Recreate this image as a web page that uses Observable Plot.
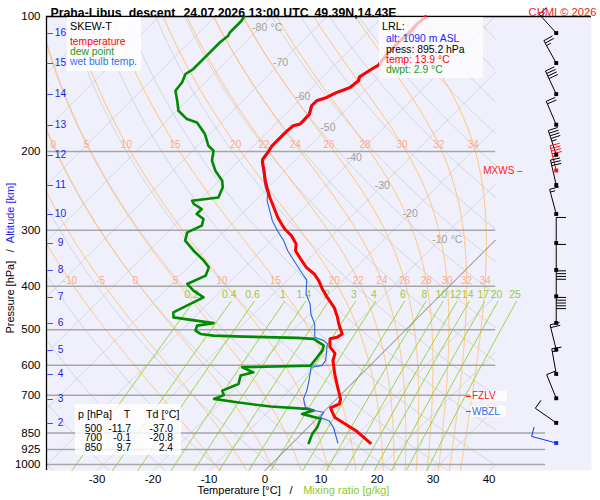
<!DOCTYPE html>
<html><head><meta charset="utf-8">
<script src="https://cdn.jsdelivr.net/npm/d3@7"></script>
<script src="https://cdn.jsdelivr.net/npm/@observablehq/plot@0.6"></script>
<style>
html,body{margin:0;padding:0;background:#fff;}
#wrap{position:relative;width:600px;height:500px;overflow:hidden;font-family:"Liberation Sans",Arial,Helvetica,sans-serif;}
.ov{position:absolute;white-space:nowrap;line-height:1;}
.box{position:absolute;}
</style></head>
<body><div id="wrap"></div>
<script>
// ---------------- data ----------------
const titleParts = ["Praha-Libus", "descent", "24.07.2026 13:00 UTC", "49.39N,14.43E"];
const credit = "CHMI © 2026";

// temperature profile (hPa, °C)
const tempP = [100,101.9,104.0,107.6,113.3,119.3,125.5,128.4,131.0,136.3,139.1,144.0,145.9,147.7,151.6,154.2,158.2,165.1,169.4,173.7,175.3,179.9,184.5,194.3,202.4,207.7,210.9,220.9,232.5,240.7,253.4,266.8,280.9,288.1,298.0,308.5,321.8,333.2,347.7,363.0,375.6,388.7,405.5,423.5,445.8,469.3,485.4,511,520,524,546,565,586,627.6,672,713.6,732,747,764,785,818,843,895.2];
const tempT = [-52.4,-52.4,-52.6,-52.3,-52.6,-52.6,-52.3,-52.1,-52.6,-53.4,-52.9,-53.2,-53.9,-54.7,-55.6,-56.8,-56.8,-55.7,-55.6,-55.6,-56.5,-56.7,-56.7,-56.7,-56.2,-56.0,-55.6,-53.7,-51.7,-50.2,-47.9,-45.4,-42.9,-41.5,-39.6,-37.2,-34.9,-33.8,-31.4,-28.9,-26.3,-24.3,-22.2,-19.8,-16.8,-14.4,-13.0,-10.6,-10.9,-11.9,-10.5,-8.4,-7.5,-4.8,-1.9,0.7,1.4,0.5,1.6,3.0,6.7,9.4,13.9];

// dew point profile
const dewP = [100,102.2,105.8,108.6,110.4,114.3,119.3,124.5,131.0,134.4,140.4,146.5,154.2,162.3,169.4,172.4,183.0,194.3,199.3,209.8,220.9,232.5,240.7,253.4,257.7,262.1,268.9,275.9,283.1,293.0,303.3,316.5,333.2,350.7,363.0,378.8,395.3,409.1,423.5,441.9,457.4,469.3,483.5,489.7,502.4,511.0,515.5,518.1,521.6,524.3,542.7,556.8,576.3,601.4,606.7,622.5,633.1,660.6,672.3,683.8,700,713.6,726.1,742.3,751.1,757.7,770.7,790.7,825.6,854.1,895.2];
const dewT = [-84.8,-84.5,-84.5,-84.5,-84.2,-84.5,-84.5,-84.5,-84.5,-85.0,-84.1,-83.8,-81.7,-79.7,-76.7,-74.3,-70.8,-68.1,-66.3,-64.8,-62.4,-59.4,-58.1,-57.1,-61.2,-60.3,-58.0,-58.0,-55.9,-55.0,-56.4,-55.3,-52.0,-48.4,-46.3,-45.4,-47.2,-44.9,-41.9,-43.4,-44.6,-43.7,-35.5,-38.0,-37.4,-35.9,-33.3,-27.7,-17.9,-14.8,-11.8,-11.2,-10.9,-10.6,-22.5,-19.6,-21.3,-20.2,-21.0,-21.9,-20.8,-21.9,-17.2,-10.4,-3.5,-2.0,-3.5,0.7,1.6,1.9,2.9];

// wet bulb temperature profile
const wbP = [100,104.0,113.3,119.3,125.5,128.4,131.0,136.3,139.1,144.0,147.7,151.6,154.2,158.2,165.1,173.7,175.3,184.5,194.3,202.4,207.7,210.9,220.9,232.5,240.7,249.0,257.7,285.6,300.6,316.5,333.2,356.3,375.5,387.0,416.1,438.0,463,485.4,520,528.9,537.5,586.1,601.4,606.7,649.5,683.8,713.6,745,757.7,764,785,798,825.6,895.2];
const wbT = [-52.6,-52.8,-52.8,-52.8,-52.5,-52.3,-52.8,-53.6,-53.1,-53.4,-54.9,-55.8,-57.0,-57.0,-55.9,-55.8,-56.7,-56.9,-56.9,-56.4,-56.2,-55.8,-53.9,-51.9,-50.5,-48.9,-47.8,-43.3,-40.6,-37.7,-35.2,-31.4,-28.4,-26.6,-24.2,-21.7,-19.6,-17.3,-14.9,-12.7,-11.5,-8.8,-8.6,-10.2,-8.2,-6.8,-5.9,-4.1,-2.0,0.1,0.4,2.5,4.5,8.1];

// axes
const xTicks = [-30,-20,-10,0,10,20,30,40];
const pTicks = [100,200,300,400,500,600,700,850,925,1000];
const isobarsUpper = [200,300,400,500,600,700];
const isobarsLower = [850,925,1000];
const altKm = [16,15,14,13,12,11,10,9,8,7,6,5,4,3,2];
const altP = [108.9,127.0,149.0,174.4,203.5,237.7,275.9,320.2,367.8,421.3,482.9,554.0,627.6,711.3,807.2];

// background lines
const isothermT = d3.range(-130, 51, 10);
const dryThetaC = d3.range(-60, 251, 10);
const moistThetaW = [-10,-5,0,5,10,15,20,22,24,26,28,30,32,34];
const moistLabelsTop = [0,5,10,15,20,22,24,26,28,30,32,34];
const moistLabelsBottom = [-10,-5,0,5,10,15,20,22,24,26,28,30,32,34];
const moistLabelP = [193, 388];
const mixRatios = [0.2,0.4,0.6,1,1.4,2,3,4,6,8,10,12,14,17,20,25];
const mixTopP = 430, mixLabelP = 418, mixLabelRefP = 438;
const isoLabelT = [-80,-70,-60,-50,-40,-30,-20,-10];
const isoLabelP = [106,127,151,177,206,238,275,315];

// winds (per km level + max wind + lowest reported level)
const windP   = [108.9,127.0,149.0,174.4,203.5,220.6,237.7,275.9,320.2,367.8,421.3,482.9,554.0,627.6,711.3,807.2,895.2];
const windDir = [318,331,335,337,342,346,347,345,0,0,0,0,346,350,338,305,285];
const windKt  = [15,25,40,20,45,45,30,15,10,10,40,50,20,15,10,10,10];
const windKind= ["km","km","km","km","km","mxws","km","km","km","km","km","km","km","km","km","km","lrl"];

// levels / info
const fzlvP = 705, wbzlP = 764, mxwsP = 220.6;
const lrlAlt = 1090, lrlPress = 895.2, lrlTemp = 13.9, lrlDwpt = 2.9;
const tableP = [500,700,850], tableT = [-11.7,-0.1,9.7], tableTd = [-37.0,-20.8,2.4];

// ---------------- geometry ----------------
const W = 600, H = 500, ML = 46, MR = 9, MT = 16, MB = 30;
const P_TOP = 100, P_BOT = 1031;
const X_LEFT = -39.02, X_RIGHT = 58.30;     // skewed temperature domain
const X_DIAG = 41.2, X_DIAG_LOW = 50.1, X_WIND = 52.0;
const pxPerDeg = (W - ML - MR) / (X_RIGHT - X_LEFT);
const pxPerLnP = (H - MT - MB) / Math.log(P_BOT / P_TOP);
const SKEW = pxPerLnP / pxPerDeg;
const skewX = (T, p) => T + SKEW * Math.log(P_BOT / p);

const FONT = '"Liberation Sans", Arial, Helvetica, sans-serif';
const RED = "#ff0000", GREEN = "#008a00", BLUE = "#2266dd", ALTBLUE = "#1c1cf0";

const pGrid = d3.range(0, 401).map(i => P_TOP * Math.pow(P_BOT / P_TOP, i / 400));

// isotherms
const isoRows = isothermT.flatMap(T => pGrid.map(p => ({id: T, p, X: skewX(T, p)})))
  .filter(d => d.X >= X_LEFT && d.X <= X_DIAG);
const zeroRows = pGrid.map(p => ({p, X: skewX(0, p)})).filter(d => d.X <= X_DIAG);
// dry adiabats
const dryRows = dryThetaC.flatMap(th => pGrid.map(p => ({id: th, p,
  X: skewX((th + 273.15) * Math.pow(p / 1000, 0.2857) - 273.15, p)})))
  .filter(d => d.X >= X_LEFT && d.X <= X_DIAG);
// pseudo-adiabats
function dTdp(p, T) {
  const Tc = T - 273.15, e = 6.112 * Math.exp(17.67 * Tc / (Tc + 243.5)), rs = 0.622 * e / (p - e);
  return (287.04 * T + 2.501e6 * rs) / (1005.7 + 2.501e6 * 2.501e6 * rs * 0.622 / (287.04 * T * T)) / p;
}
function integrate(thw, pEnd, n) {
  let p = 1000, T = thw + 273.15; const h = (pEnd - 1000) / n; const pts = [{p, T: T - 273.15}];
  for (let i = 0; i < n; i++) {
    const k1 = dTdp(p, T), k2 = dTdp(p + h / 2, T + h / 2 * k1), k3 = dTdp(p + h / 2, T + h / 2 * k2), k4 = dTdp(p + h, T + h * k3);
    T += h / 6 * (k1 + 2 * k2 + 2 * k3 + k4); p += h; pts.push({p, T: T - 273.15});
  }
  return pts;
}
const moistProfiles = new Map(moistThetaW.map(thw => {
  const up = integrate(thw, P_TOP, 450), down = integrate(thw, P_BOT, 8);
  return [thw, down.reverse().concat(up.slice(1)).sort((a, b) => a.p - b.p)];
}));
const moistRows = moistThetaW.flatMap(thw => moistProfiles.get(thw).map(d => ({id: thw, p: d.p, X: skewX(d.T, d.p)})))
  .filter(d => d.X >= X_LEFT && d.X <= X_DIAG);
function moistTAt(thw, p) {
  const prof = moistProfiles.get(thw); const i = d3.bisector(d => d.p).left(prof, p);
  const a = prof[Math.max(0, i - 1)], b = prof[Math.min(prof.length - 1, i)];
  const t = b.p === a.p ? 0 : (p - a.p) / (b.p - a.p); return a.T + t * (b.T - a.T);
}
const moistLabelRows = [
  ...moistLabelsTop.map(v => ({v, p: moistLabelP[0]})),
  ...moistLabelsBottom.map(v => ({v, p: moistLabelP[1]}))
].map(d => ({...d, X: skewX(moistTAt(d.v, d.p), d.p)}));
// mixing ratio lines
const mixT = (w, p) => { const e = w * p / (622 + w), l = Math.log(e / 6.112); return 243.5 * l / (17.67 - l); };
const mixRows = mixRatios.flatMap(w => pGrid.filter(p => p >= mixTopP).map(p => ({id: w, p, X: skewX(mixT(w, p), p)})));
const mixLabelRows = mixRatios.map(w => ({w, p: mixLabelP, X: skewX(mixT(w, mixLabelRefP), mixLabelRefP)}));

// profiles
const tempRows = tempP.map((p, i) => ({p, X: skewX(tempT[i], p)}));
const dewRows = dewP.map((p, i) => ({p, X: skewX(dewT[i], p)}));
const wbRows = wbP.map((p, i) => ({p, X: skewX(wbT[i], p)}));

// scales (same as the plot's) for wind barb geometry
function getScale(opts, key) {
  try { const s = Plot.scale(opts); if (s && s.apply && s.invert) return s; } catch (e) {}
  const o = opts[key]; const f = (o.type === "log" ? d3.scaleLog() : d3.scaleLinear()).domain(o.domain).range(o.range);
  return {apply: f, invert: f.invert};
}
const xOpt = {domain: [X_LEFT, X_RIGHT], range: [ML, W - MR]};
const yOpt = {type: "log", domain: [P_BOT, P_TOP], range: [H - MB, MT]};
const xs = getScale({x: xOpt}, "x"), ys = getScale({y: yOpt}, "y");

const kindColor = k => k === "mxws" ? "#ff1010" : k === "lrl" ? "#1030ff" : "#000000";
const STAFF = 25.5, GAP = 2.8, BARB = 9.8;
const barbSegs = [];
windP.forEach((p, i) => {
  const col = kindColor(windKind[i]);
  const px = xs.apply(X_WIND), py = ys.apply(p);
  const a = windDir[i] * Math.PI / 180, ux = Math.sin(a), uy = -Math.cos(a);
  const vx = -uy, vy = ux;
  const ex = px + ux * STAFF, ey = py + uy * STAFF;
  barbSegs.push({x1: px, y1: py, x2: ex, y2: ey, col});
  let s = windKt[i], k = 0;
  while (s >= 10) { const bx = ex - ux * k * GAP, by = ey - uy * k * GAP;
    barbSegs.push({x1: bx, y1: by, x2: bx + vx * BARB, y2: by + vy * BARB, col}); s -= 10; k++; }
  if (s >= 5) { const bx = ex - ux * k * GAP, by = ey - uy * k * GAP;
    barbSegs.push({x1: bx, y1: by, x2: bx + vx * BARB / 2, y2: by + vy * BARB / 2, col}); }
});
const barbRows = barbSegs.map(s => ({x1: xs.invert(s.x1), y1: ys.invert(s.y1), x2: xs.invert(s.x2), y2: ys.invert(s.y2), col: s.col}));
const windRows = windP.map((p, i) => ({p, col: kindColor(windKind[i])}));

// ---------------- plot ----------------
const txt = d => d;
const altRows = altKm.map((k, i) => ({k, p: altP[i]}));
const chart = Plot.plot({
  width: W, height: H, marginLeft: ML, marginRight: MR, marginTop: MT, marginBottom: MB,
  style: {fontFamily: FONT, fontSize: "11px", background: "white", overflow: "visible"},
  x: xOpt, y: yOpt,
  marks: [
    Plot.frame({fill: "#f0f0fc", stroke: "none"}),
    Plot.line(isoRows, {x: "X", y: "p", z: "id", stroke: "#cfcfd6", strokeWidth: 0.9}),
    Plot.line(dryRows, {x: "X", y: "p", z: "id", stroke: "#cfcfd6", strokeWidth: 0.9}),
    Plot.line(moistRows, {x: "X", y: "p", z: "id", stroke: "#ffc474", strokeWidth: 1}),
    Plot.line(mixRows, {x: "X", y: "p", z: "id", stroke: "#96d42a", strokeWidth: 1}),
    Plot.ruleY(isobarsUpper, {x1: X_LEFT, x2: X_DIAG, stroke: "#a6a6a6", strokeWidth: 1.5}),
    Plot.ruleY(isobarsLower, {x1: X_LEFT, x2: X_DIAG_LOW, stroke: "#a6a6a6", strokeWidth: 1.5}),
    Plot.line(zeroRows, {x: "X", y: "p", stroke: "#6e6e6e", strokeWidth: 0.8}),
    Plot.ruleY([P_TOP], {stroke: "black", strokeWidth: 1.3}),
    Plot.ruleX([X_LEFT], {stroke: "black", strokeWidth: 1.3}),
    // labels of background lines
    Plot.text(isoLabelT.map((T, i) => ({T, p: isoLabelP[i]})), {x: d => skewX(d.T, d.p), y: "p", text: d => String(d.T), fill: "#a0a0a0", fontSize: 10.5}),
    Plot.text(isoLabelT.map((T, i) => ({T, p: isoLabelP[i]})).filter(d => d.T === -80 || d.T === -10),
      {x: d => skewX(d.T, d.p), y: "p", text: () => " °C", textAnchor: "start", dx: 8, fill: "#a0a0a0", fontSize: 10.5}),
    Plot.text(moistLabelRows, {x: "X", y: "p", text: d => String(d.v), fill: "#ffa98c", fontSize: 10}),
    Plot.text(mixLabelRows, {x: "X", y: "p", text: d => String(d.w), fill: "#99cc33", fontSize: 10.5}),
    // profiles
    Plot.line(dewRows, {x: "X", y: "p", stroke: GREEN, strokeWidth: 2.6}),
    Plot.line(wbRows, {x: "X", y: "p", stroke: BLUE, strokeWidth: 1.1}),
    Plot.line(tempRows, {x: "X", y: "p", stroke: RED, strokeWidth: 3}),
    // winds
    Plot.link(barbRows, {x1: "x1", y1: "y1", x2: "x2", y2: "y2", stroke: "col", strokeWidth: 1}),
    Plot.dot(windRows, {x: X_WIND, y: "p", symbol: "square", r: 2.2, fill: "col", stroke: "none"}),
    // axes
    Plot.axisX(xTicks, {tickSize: 0, tickPadding: 4, tickFormat: d => String(d), fontSize: 11.5, label: null}),
    Plot.axisY(pTicks, {tickSize: 0, tickPadding: 6, tickFormat: d => String(d), fontSize: 11.5, label: null}),
    Plot.text(altRows, {y: "p", frameAnchor: "left", dx: 0.5, textAnchor: "start", text: () => "–", fill: ALTBLUE, fontSize: 10.5}),
    Plot.text(altRows, {y: "p", frameAnchor: "left", dx: 14, textAnchor: "middle", text: d => String(d.k), fill: ALTBLUE, fontSize: 10.2}),
    Plot.text(["Pressure [hPa]"], {frameAnchor: "left", dx: -36, dy: 90, rotate: -90, textAnchor: "start", text: txt, fontSize: 11}),
    Plot.text(["/"], {frameAnchor: "left", dx: -36, dy: 8.7, rotate: -90, text: txt, fontSize: 11}),
    Plot.text(["Altitude [km]"], {frameAnchor: "left", dx: -36, dy: -0.3, rotate: -90, textAnchor: "start", text: txt, fontSize: 11, fill: ALTBLUE}),
    Plot.text(["Temperature [°C]"], {frameAnchor: "bottom-left", dx: 151, dy: 23, textAnchor: "start", text: txt, fontSize: 11}),
    Plot.text(["/"], {frameAnchor: "bottom-left", dx: 243, dy: 23, text: txt, fontSize: 11}),
    Plot.text(["Mixing ratio [g/kg]"], {frameAnchor: "bottom-left", dx: 256.7, dy: 23, textAnchor: "start", text: txt, fontSize: 11, fill: "#88cc22"}),
    // title
    Plot.text([titleParts[0]], {frameAnchor: "top-left", dx: 4, dy: -8.3, textAnchor: "start", text: txt, fontSize: 12.3, fontWeight: "bold"}),
    Plot.text([titleParts[1]], {frameAnchor: "top-left", dx: 82.3, dy: -8.3, textAnchor: "start", text: txt, fontSize: 12.3, fontWeight: "bold"}),
    Plot.text([titleParts[2]], {frameAnchor: "top-left", dx: 137, dy: -8.3, textAnchor: "start", text: txt, fontSize: 12.3, fontWeight: "bold"}),
    Plot.text([titleParts[3]], {frameAnchor: "top-left", dx: 268, dy: -8.3, textAnchor: "start", text: txt, fontSize: 12.3, fontWeight: "bold"}),
    Plot.text([credit], {frameAnchor: "top-right", dx: 5, dy: -8.7, textAnchor: "end", text: txt, fontSize: 11.2, fill: "#ee2222"}),
    // max wind level
    Plot.text([mxwsP], {y: d => d, frameAnchor: "left", dx: 436.7, textAnchor: "start", text: () => "MXWS –", fontSize: 10, fill: "#ff2020"})
  ]
});
chart.style.position = "absolute"; chart.style.left = "0px"; chart.style.top = "0px";
const wrap = document.getElementById("wrap");
wrap.appendChild(chart);

// ---------------- overlay boxes ----------------
function addBox(x, y, w, h, alpha) {
  const d = document.createElement("div"); d.className = "box";
  Object.assign(d.style, {left: x + "px", top: y + "px", width: w + "px", height: h + "px", background: `rgba(255,255,255,${alpha})`});
  wrap.appendChild(d);
}
function addText(t, x, yc, size, color, anchor = "start") {
  const d = document.createElement("div"); d.className = "ov"; d.textContent = t;
  Object.assign(d.style, {fontSize: size + "px", color, top: (yc - size * 0.5) + "px"});
  if (anchor === "end") d.style.right = (W - x) + "px";
  else if (anchor === "middle") { d.style.left = x + "px"; d.style.transform = "translateX(-50%)"; }
  else d.style.left = x + "px";
  wrap.appendChild(d);
}
function addDash(x, yc, w, color) {
  const d = document.createElement("div");
  Object.assign(d.style, {position: "absolute", left: x + "px", top: (yc - 0.5) + "px", width: w + "px", height: "1px", background: color});
  wrap.appendChild(d);
}
// legend
addBox(67, 17, 74, 54, 0.85);
addText("SKEW-T", 70, 26, 10.8, "#000");
addText("temperature", 70, 41.7, 10.3, RED);
addText("dew point", 70, 51.7, 10.3, "#1a961a");
addText("wet bulb temp.", 70, 62.3, 10.3, "#2a72ee");
// lowest reported level
addBox(379, 17, 104, 61, 0.72);
addText("LRL:", 382, 26.5, 10.8, "#000");
addText(`alt: ${lrlAlt} m ASL`, 386, 39.5, 10.4, "#1f1fff");
addText(`press: ${lrlPress.toFixed(1)} hPa`, 386, 50, 10.4, "#000");
addText(`temp: ${lrlTemp.toFixed(1)} °C`, 386, 60.3, 10.4, RED);
addText(`dwpt: ${lrlDwpt.toFixed(1)} °C`, 386, 70.3, 10.4, "#1a9a1a");
// table
addBox(75, 404, 106, 51, 0.82);
addText("p [hPa]", 78, 414.3, 10.7, "#000");
addText("T", 127, 414.3, 10.7, "#000", "middle");
addText("Td [°C]", 146, 414.3, 10.7, "#000");
const rowY = [428.7, 438.6, 448.4];
tableP.forEach((p, i) => {
  addText(String(p), 102, rowY[i], 10.3, "#000", "end");
  addText(tableT[i].toFixed(1), 131, rowY[i], 10.3, "#000", "end");
  addText(tableTd[i].toFixed(1), 173, rowY[i], 10.3, "#000", "end");
});
// freezing level / wet bulb zero
const yF = ys.apply(fzlvP), yW = ys.apply(wbzlP);
addBox(470, yF - 5.3, 37, 10.6, 0.8);
addDash(465.7, yF, 5.5, "#ff2020");
addText("FZLV", 472, yF, 10, "#ff2020");
addBox(470, yW - 5.3, 36, 10.6, 0.8);
addDash(465.7, yW, 5.5, "#2a6fe8");
addText("WBZL", 472, yW, 10, "#2a6fe8");
</script>
</body></html>
